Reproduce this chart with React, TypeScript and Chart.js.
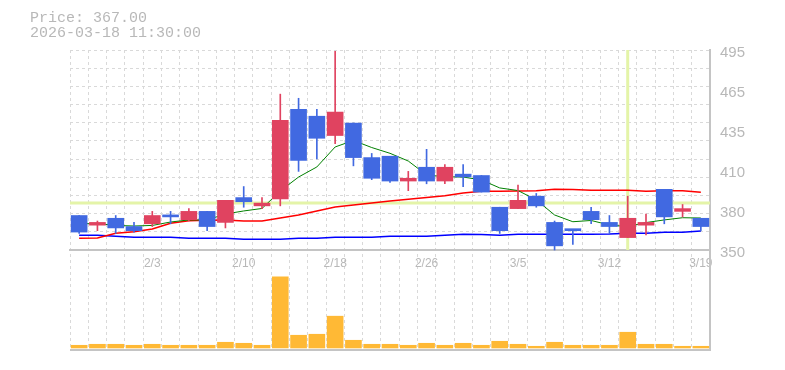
import React, { useEffect, useRef } from "react";
import { Chart, registerables } from "chart.js";

Chart.register(...registerables);

// ---------- data ----------
const DATES = [
  "1/28", "1/29", "1/30", "2/2", "2/3", "2/4", "2/5", "2/6", "2/9", "2/10",
  "2/12", "2/13", "2/16", "2/17", "2/18", "2/19", "2/20", "2/24", "2/25", "2/26",
  "2/27", "3/2", "3/3", "3/4", "3/5", "3/6", "3/9", "3/10", "3/11", "3/12",
  "3/13", "3/16", "3/17", "3/18", "3/19",
];

const OPEN = [375, 368, 373, 367, 369, 375, 372, 378, 370, 388, 382, 387, 452, 447, 433, 442, 417, 418, 400, 410, 400, 405, 404, 381, 380, 389, 370, 365, 378, 370, 359, 368, 394, 378, 373];
const HIGH = [375, 371, 375, 370, 378, 378, 380, 378, 386, 396, 388, 463, 460, 452, 494, 442, 420, 418, 407, 423, 412, 412, 404, 381, 397, 391, 371, 365, 381, 375, 389, 376, 394, 383, 373];
const LOW = [362, 364, 362, 363, 367, 369, 371, 364, 366, 381, 380, 382, 407, 416, 427, 411, 401, 399, 393, 398, 398, 396, 392, 362, 380, 381, 350, 354, 369, 362, 359, 361, 369, 374, 364];
const CLOSE = [363, 370, 366, 364, 375, 374, 378, 367, 386, 385, 384, 444, 415, 431, 450, 417, 402, 400, 402, 400, 410, 403, 392, 364, 386, 382, 353, 364, 372, 367, 373, 370, 374, 380, 367];

const VOLUME = [27, 37, 37, 27, 37, 27, 27, 27, 57, 47, 27, 710, 127, 137, 317, 77, 37, 37, 27, 47, 27, 47, 27, 67, 37, 17, 57, 27, 27, 27, 157, 37, 37, 17, 17];

const MA_SHORT = [369, 369.2, 367.8, 367.4, 367.8, 370.3, 371.8, 371.8, 376.1, 378.3, 380.1, 392.8, 402.9, 410.2, 424.7, 429.4, 424.3, 420.1, 414.5, 404.4, 403.1, 402.9, 400.8, 395.0, 393.1, 386.3, 375.4, 370.5, 371.4, 368.1, 367.0, 369.9, 371.8, 373.4, 373.2];
const MA_MID = [358.5, 358.7, 362.1, 363.3, 365.2, 369.4, 371.2, 371.5, 371.8, 371.0, 371.0, 373.2, 375.4, 378.3, 381.2, 382.6, 384.1, 385.5, 386.8, 388.1, 389.4, 391.3, 392.6, 392.6, 392.8, 393.0, 394.0, 393.9, 393.3, 393.3, 393.3, 392.6, 393.0, 393.0, 391.8];
const MA_LONG = [360.7, 360.7, 359.9, 359.2, 359.2, 359.2, 358.5, 358.5, 358.5, 357.8, 357.8, 357.8, 358.5, 358.5, 359.2, 359.2, 359.2, 359.9, 359.9, 359.9, 360.7, 361.4, 361.2, 360.7, 361.4, 361.4, 361.4, 361.4, 361.4, 361.6, 362.1, 362.1, 362.8, 362.8, 363.8];

const PRICE_TICKS = [350, 379, 408, 437, 466, 495];
const PRICE_GRID_STEPS = 11;
const LABEL_EVERY = 5;
const LABEL_PHASE = 4;

const PRICE_TEXT = "Price: 367.00";
const TIME_TEXT = "2026-03-18 11:30:00";
const CROSS_INDEX = 30;
const CROSS_PRICE = 384;

// ---------- styles ----------
const UP = "#e04360";
const DOWN = "#4169e1";
const VOL = "#ffb935";
const GRID = "#d9d9d9";
const AXIS = "#c4c4c4";
const TEXT = "#b8b8b8";
const CROSS = "#e4f4a8";

const PRICE_MIN = PRICE_TICKS[0];
const PRICE_MAX = PRICE_TICKS[PRICE_TICKS.length - 1];
// price panel takes the upper 2/3 of the plot area
const PRICE_AXIS_MIN = PRICE_MIN - (PRICE_MAX - PRICE_MIN) / 2;

const crosshair = {
  id: "crosshair",
  beforeDatasetsDraw(chart: any) {
    const { ctx, chartArea, scales } = chart;
    const x = scales.x.getPixelForValue(CROSS_INDEX);
    const y = scales.y.getPixelForValue(CROSS_PRICE);
    const bottom = scales.y.getPixelForValue(PRICE_MIN);
    ctx.save();
    ctx.strokeStyle = CROSS;
    ctx.lineWidth = 3;
    ctx.beginPath();
    ctx.moveTo(x, chartArea.top);
    ctx.lineTo(x, bottom);
    ctx.moveTo(chartArea.left, y);
    ctx.lineTo(chartArea.right, y);
    ctx.stroke();
    ctx.restore();
  },
};

export default function App() {
  const ref = useRef<HTMLCanvasElement>(null);

  useEffect(() => {
    const colors = DATES.map((_, i) => (CLOSE[i] >= OPEN[i] ? UP : DOWN));
    const chart = new Chart(ref.current as HTMLCanvasElement, {
      type: "bar",
      data: {
        labels: DATES,
        datasets: [
          {
            type: "bar",
            data: DATES.map((_, i) => [OPEN[i], CLOSE[i]]) as any,
            backgroundColor: colors,
            barThickness: 16,
            minBarLength: 2,
            grouped: false,
            order: 0,
            yAxisID: "y",
          },
          {
            type: "bar",
            data: DATES.map((_, i) => [LOW[i], HIGH[i]]) as any,
            backgroundColor: colors,
            barThickness: 1,
            grouped: false,
            order: 1,
            yAxisID: "y",
          },
          {
            type: "line",
            data: MA_SHORT,
            borderColor: "#008000",
            borderWidth: 1,
            pointRadius: 0,
            order: 2,
            yAxisID: "y",
          },
          {
            type: "line",
            data: MA_MID,
            borderColor: "#ff0000",
            borderWidth: 1.5,
            pointRadius: 0,
            order: 2,
            yAxisID: "y",
          },
          {
            type: "line",
            data: MA_LONG,
            borderColor: "#0000ff",
            borderWidth: 1.5,
            pointRadius: 0,
            order: 2,
            yAxisID: "y",
          },
          {
            type: "bar",
            data: VOLUME,
            backgroundColor: VOL,
            barThickness: 16,
            grouped: false,
            order: 3,
            yAxisID: "yv",
          },
        ] as any,
      },
      options: {
        animation: false,
        responsive: false,
        events: [],
        layout: { padding: { left: 70, top: 50, right: 0, bottom: 20 } },
        plugins: { legend: { display: false }, tooltip: { enabled: false } },
        scales: {
          x: {
            type: "category",
            position: { y: PRICE_MIN } as any,
            offset: true,
            grid: {
              offset: true,
              drawTicks: false,
              color: (c: any) => (c.index === DATES.length ? "rgba(0,0,0,0)" : GRID),
            },
            border: { color: AXIS, width: 2, dash: [3, 3] },
            ticks: {
              autoSkip: false,
              maxRotation: 0,
              minRotation: 0,
              padding: 6,
              color: TEXT,
              font: { family: "'Liberation Sans', Arial, sans-serif", size: 12 },
              callback: (_v: any, i: number) => (i % LABEL_EVERY === LABEL_PHASE ? DATES[i] : ""),
            },
          },
          y: {
            position: "right",
            min: PRICE_AXIS_MIN,
            max: PRICE_MAX,
            afterBuildTicks: (s: any) => {
              s.ticks = PRICE_TICKS.map((value) => ({ value }));
            },
            afterFit: (s: any) => {
              s.width = 75;
            },
            grid: { drawOnChartArea: false, drawTicks: false },
            border: { color: AXIS, width: 2 },
            ticks: {
              padding: 10,
              labelOffset: 3,
              color: TEXT,
              font: { family: "'Liberation Sans', Arial, sans-serif", size: 15 },
              callback: (v: any) => String(Math.round(Number(v) / 5) * 5),
            },
          },
          yg: {
            position: "left",
            min: PRICE_AXIS_MIN,
            max: PRICE_MAX,
            afterBuildTicks: (s: any) => {
              const t = [];
              for (let k = 1; k <= PRICE_GRID_STEPS; k++) {
                t.push({ value: PRICE_MIN + ((PRICE_MAX - PRICE_MIN) * k) / PRICE_GRID_STEPS });
              }
              s.ticks = t;
            },
            afterFit: (s: any) => {
              s.width = 0;
            },
            ticks: { display: false },
            grid: { color: GRID, drawTicks: false },
            border: { display: false, dash: [3, 3] },
          },
          yv: {
            position: "left",
            min: -20,
            max: 2970,
            afterBuildTicks: (s: any) => {
              s.ticks = [{ value: s.min }];
            },
            afterFit: (s: any) => {
              s.width = 0;
            },
            ticks: { display: false },
            grid: { color: AXIS, lineWidth: 2, drawTicks: false },
            border: { display: false },
          },
        } as any,
      },
      plugins: [crosshair],
    });
    return () => chart.destroy();
  }, []);

  return (
    <div style={{ position: "absolute", left: 0, top: 0, width: 785, height: 370, background: "#fff" }}>
      <canvas ref={ref} width={785} height={370} style={{ position: "absolute", left: 0, top: 0 }} />
      <div
        style={{
          position: "absolute",
          left: 30,
          top: 11,
          font: "15px 'Liberation Mono', 'Courier New', monospace",
          lineHeight: "15px",
          color: TEXT,
          whiteSpace: "pre",
        }}
      >
        <div>{PRICE_TEXT}</div>
        <div>{TIME_TEXT}</div>
      </div>
    </div>
  );
}
